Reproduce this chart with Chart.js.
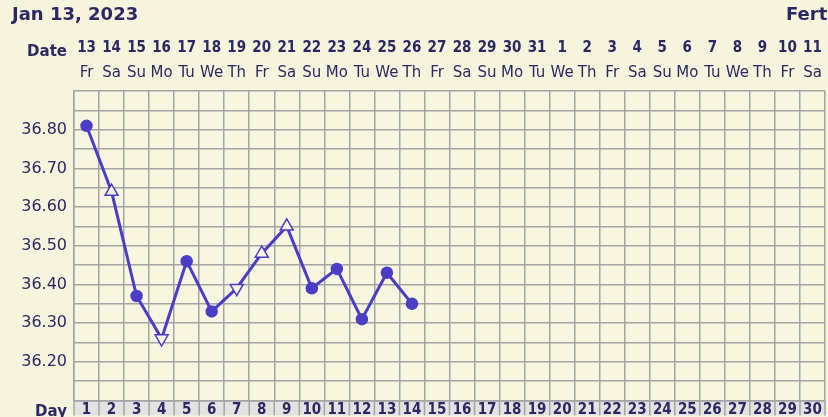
<!DOCTYPE html>
<html>
<head>
<meta charset="utf-8">
<script src="https://cdn.jsdelivr.net/npm/chart.js@4/dist/chart.umd.min.js"></script>
<style>
  html, body { margin: 0; padding: 0; background: #f6f4dc; overflow: hidden; }
  #wrap { position: relative; width: 832px; height: 417px; }
  .rotulo { position: absolute; font-family: 'DejaVu Sans', sans-serif; font-weight: bold; color: #2b2863; white-space: nowrap; line-height: 1; }
</style>
</head>
<body>
<div id="wrap">
  <canvas id="grafico" width="832" height="417"></canvas>
  <div class="rotulo" style="left:12px; top:5px; font-size:18px;">Jan 13, 2023</div>
  <div class="rotulo" style="left:786px; top:5px; font-size:18px;">Fertility Chart</div>
  <div class="rotulo" style="right:765px; top:44px; font-size:15px;">Date</div>
  <div class="rotulo" style="right:765px; top:404px; font-size:15px;">Day</div>
</div>
<script>
// dias do ciclo (linha de baixo)
const dias = ['1','2','3','4','5','6','7','8','9','10','11','12','13','14','15',
              '16','17','18','19','20','21','22','23','24','25','26','27','28','29','30'];
// datas (linha de cima)
const datas = ['13','14','15','16','17','18','19','20','21','22','23','24','25','26','27',
               '28','29','30','31','1','2','3','4','5','6','7','8','9','10','11'];
const semana = ['Fr','Sa','Su','Mo','Tu','We','Th','Fr','Sa','Su','Mo','Tu','We','Th','Fr',
                'Sa','Su','Mo','Tu','We','Th','Fr','Sa','Su','Mo','Tu','We','Th','Fr','Sa'];
// temperatura basal por dia
const temperaturas = [36.81, 36.64, 36.37, 36.26, 36.46, 36.33, 36.39, 36.48, 36.55, 36.39, 36.44, 36.31, 36.43, 36.35];
// tipo de marcador por dia
const marcadores = ['circle','up','circle','down','circle','circle','down','up','up','circle','circle','circle','circle','circle'];
const rotulosY = ['36.20','36.30','36.40','36.50','36.60','36.70','36.80'];

const azul = '#4a3ec6';
const texto = '#2b2863';
const grade = '#a4a4a4';
const creme = '#f8f6e0';

const fundo = {
  id: 'fundo',
  beforeDraw(chart) {
    const c = chart.ctx, a = chart.chartArea, x = chart.scales.x;
    c.save();
    c.fillStyle = creme;
    c.fillRect(a.left, a.top, a.right - a.left, a.bottom - a.top);
    // celulas da linha "Day"
    c.fillStyle = '#e3e3e1';
    c.fillRect(a.left, x.top, a.right - a.left, x.bottom - x.top);
    c.strokeStyle = grade;
    c.lineWidth = 1.5;
    const w = (a.right - a.left) / dias.length;
    for (let i = 0; i <= dias.length; i++) {
      const px = a.left + i * w;
      c.beginPath(); c.moveTo(px, x.top); c.lineTo(px, x.bottom); c.stroke();
    }
    c.restore();
  }
};

const ctx = document.getElementById('grafico').getContext('2d');
const grafico = new Chart(ctx, {
  type: 'line',
  data: {
    labels: dias,
    datasets: [{
      label: 'Temperatura',
      data: temperaturas,
      borderColor: azul,
      borderWidth: 3,
      tension: 0,
      pointStyle: marcadores.map(m => m === 'circle' ? 'circle' : 'triangle'),
      rotation: marcadores.map(m => m === 'down' ? 180 : 0),
      pointRadius: marcadores.map(m => m === 'circle' ? 5.5 : 7.5),
      pointBackgroundColor: marcadores.map(m => m === 'circle' ? azul : creme),
      pointBorderColor: azul,
      pointBorderWidth: 1.5
    }]
  },
  options: {
    responsive: false,
    animation: false,
    devicePixelRatio: 1,
    layout: { padding: { top: 35, left: 0, right: 0, bottom: 0 } },
    plugins: { legend: { display: false }, tooltip: { enabled: false } },
    scales: {
      x: {
        type: 'category',
        position: 'bottom',
        offset: true,
        grid: { offset: true, color: grade, lineWidth: 1.5, drawTicks: false },
        border: { color: grade, width: 1.5 },
        ticks: {
          autoSkip: false, maxRotation: 0, padding: 1, color: texto,
          font: { family: "'DejaVu Sans Condensed', 'DejaVu Sans'", weight: 'bold', size: 15 }
        },
        afterFit: s => { s.height = 15; }
      },
      datas: {
        type: 'category',
        labels: datas,
        position: 'top',
        weight: 2,
        offset: true,
        grid: { display: false, drawTicks: false },
        border: { display: false },
        ticks: {
          autoSkip: false, maxRotation: 0, padding: 6, color: texto,
          font: { family: "'DejaVu Sans Condensed', 'DejaVu Sans'", weight: 'bold', size: 15 }
        },
        afterFit: s => { s.height = 28; }
      },
      semana: {
        type: 'category',
        labels: semana,
        position: 'top',
        weight: 1,
        offset: true,
        grid: { display: false, drawTicks: false },
        border: { display: false },
        ticks: {
          autoSkip: false, maxRotation: 0, padding: 9, color: texto,
          font: { family: "'DejaVu Sans'", size: 15 }
        },
        afterFit: s => { s.height = 28; }
      },
      y: {
        min: 36.10,
        max: 36.90,
        grid: { color: grade, lineWidth: 1.5, drawTicks: false },
        border: { color: grade, width: 1.5 },
        ticks: {
          autoSkip: false, padding: 7, color: texto,
          font: { family: "'DejaVu Sans'", size: 16 },
          callback: v => rotulosY.includes(Number(v).toFixed(2)) ? Number(v).toFixed(2) : ''
        },
        // linhas da grade a cada 0.05
        afterBuildTicks: s => {
          const t = [];
          for (let k = 3610; k <= 3690; k += 5) t.push({ value: k / 100 });
          s.ticks = t;
        },
        afterFit: s => { s.width = 74; }
      }
    }
  },
  plugins: [fundo]
});
</script>
</body>
</html>
